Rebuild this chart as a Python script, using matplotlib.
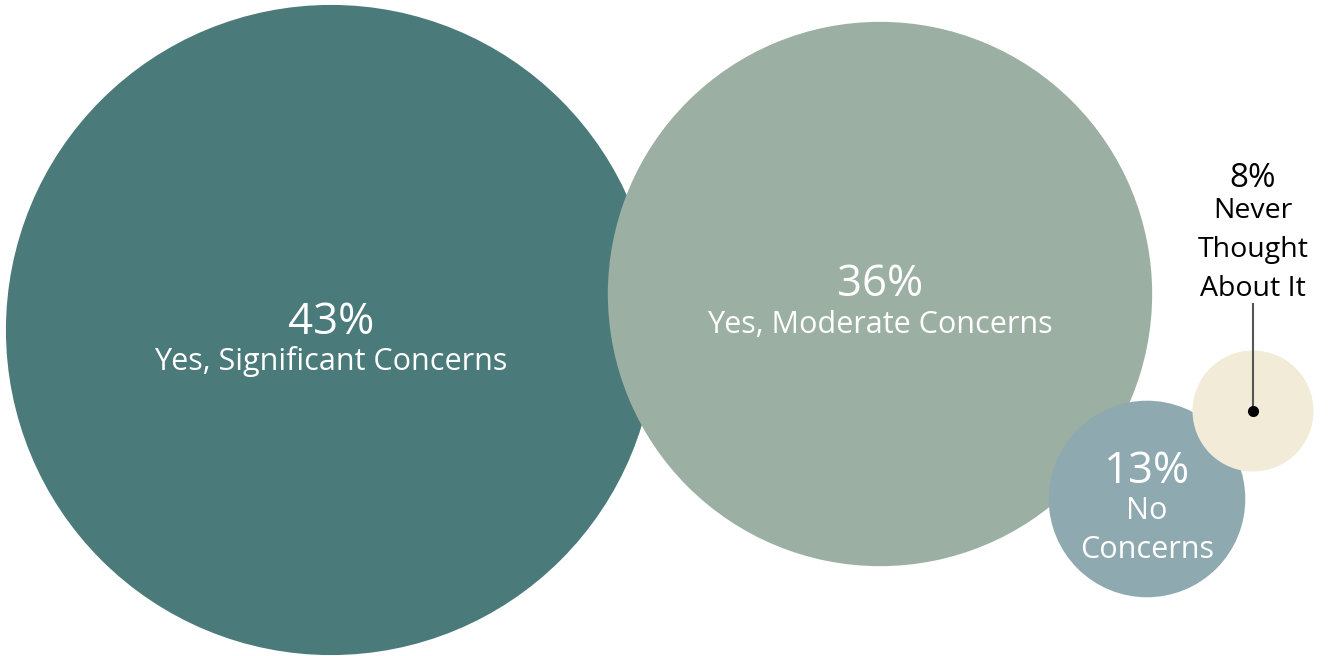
import matplotlib
matplotlib.use("Agg")
import matplotlib.pyplot as plt
from matplotlib.patches import Circle

# Survey shares
categories = ["Yes, Significant Concerns", "Yes, Moderate Concerns", "No Concerns", "Never Thought About It"]
values = [43, 36, 13, 8]
colors = ["#4b7a7a", "#9cafa3", "#8fa9b0", "#f1ebd7"]

# Bubble layout (pixel canvas), radius scales linearly with the share
centers = [(331, 330), (880, 294), (1147, 499), (1253, 411)]
px_per_point = 7.56

W, H = 1328, 656
fig = plt.figure(figsize=(W / 100, H / 100), dpi=100)
ax = fig.add_axes([0, 0, 1, 1])
ax.set_xlim(0, W)
ax.set_ylim(H, 0)
ax.set_aspect("equal")
ax.axis("off")

for i, (v, c, (cx, cy)) in enumerate(zip(values, colors, centers)):
    ax.add_patch(Circle((cx, cy), v * px_per_point, facecolor=c, edgecolor="none", zorder=1 + i))

font = "Open Sans"
big, small = 31.5, 22


def label(x, y, s, size, color="white"):
    ax.text(x, y, s, color=color, fontsize=size, ha="center", va="baseline",
            family=font, zorder=10)


# Labels inside the three larger bubbles
label(331, 334, f"{values[0]}%", big)
label(331, 370, "Yes, Significant Concerns", small)

label(880, 296, f"{values[1]}%", big)
label(880, 333, "Yes, Moderate Concerns", small)

label(1147, 483, f"{values[2]}%", big)
label(1147, 519, "No", small)
label(1147, 558, "Concerns", small)

# Callout for the smallest bubble
label(1253, 187, f"{values[3]}%", 24, "black")
for y, s in zip([218, 257, 296], ["Never", "Thought", "About It"]):
    label(1253, y, s, 20.5, "black")
ax.plot([1253, 1253], [303, 411], color="#555555", lw=1.5, zorder=11, solid_capstyle="butt")
ax.plot([1253], [411], "o", color="black", ms=7, zorder=12)

fig.savefig("out.png", dpi=100, facecolor="white")
